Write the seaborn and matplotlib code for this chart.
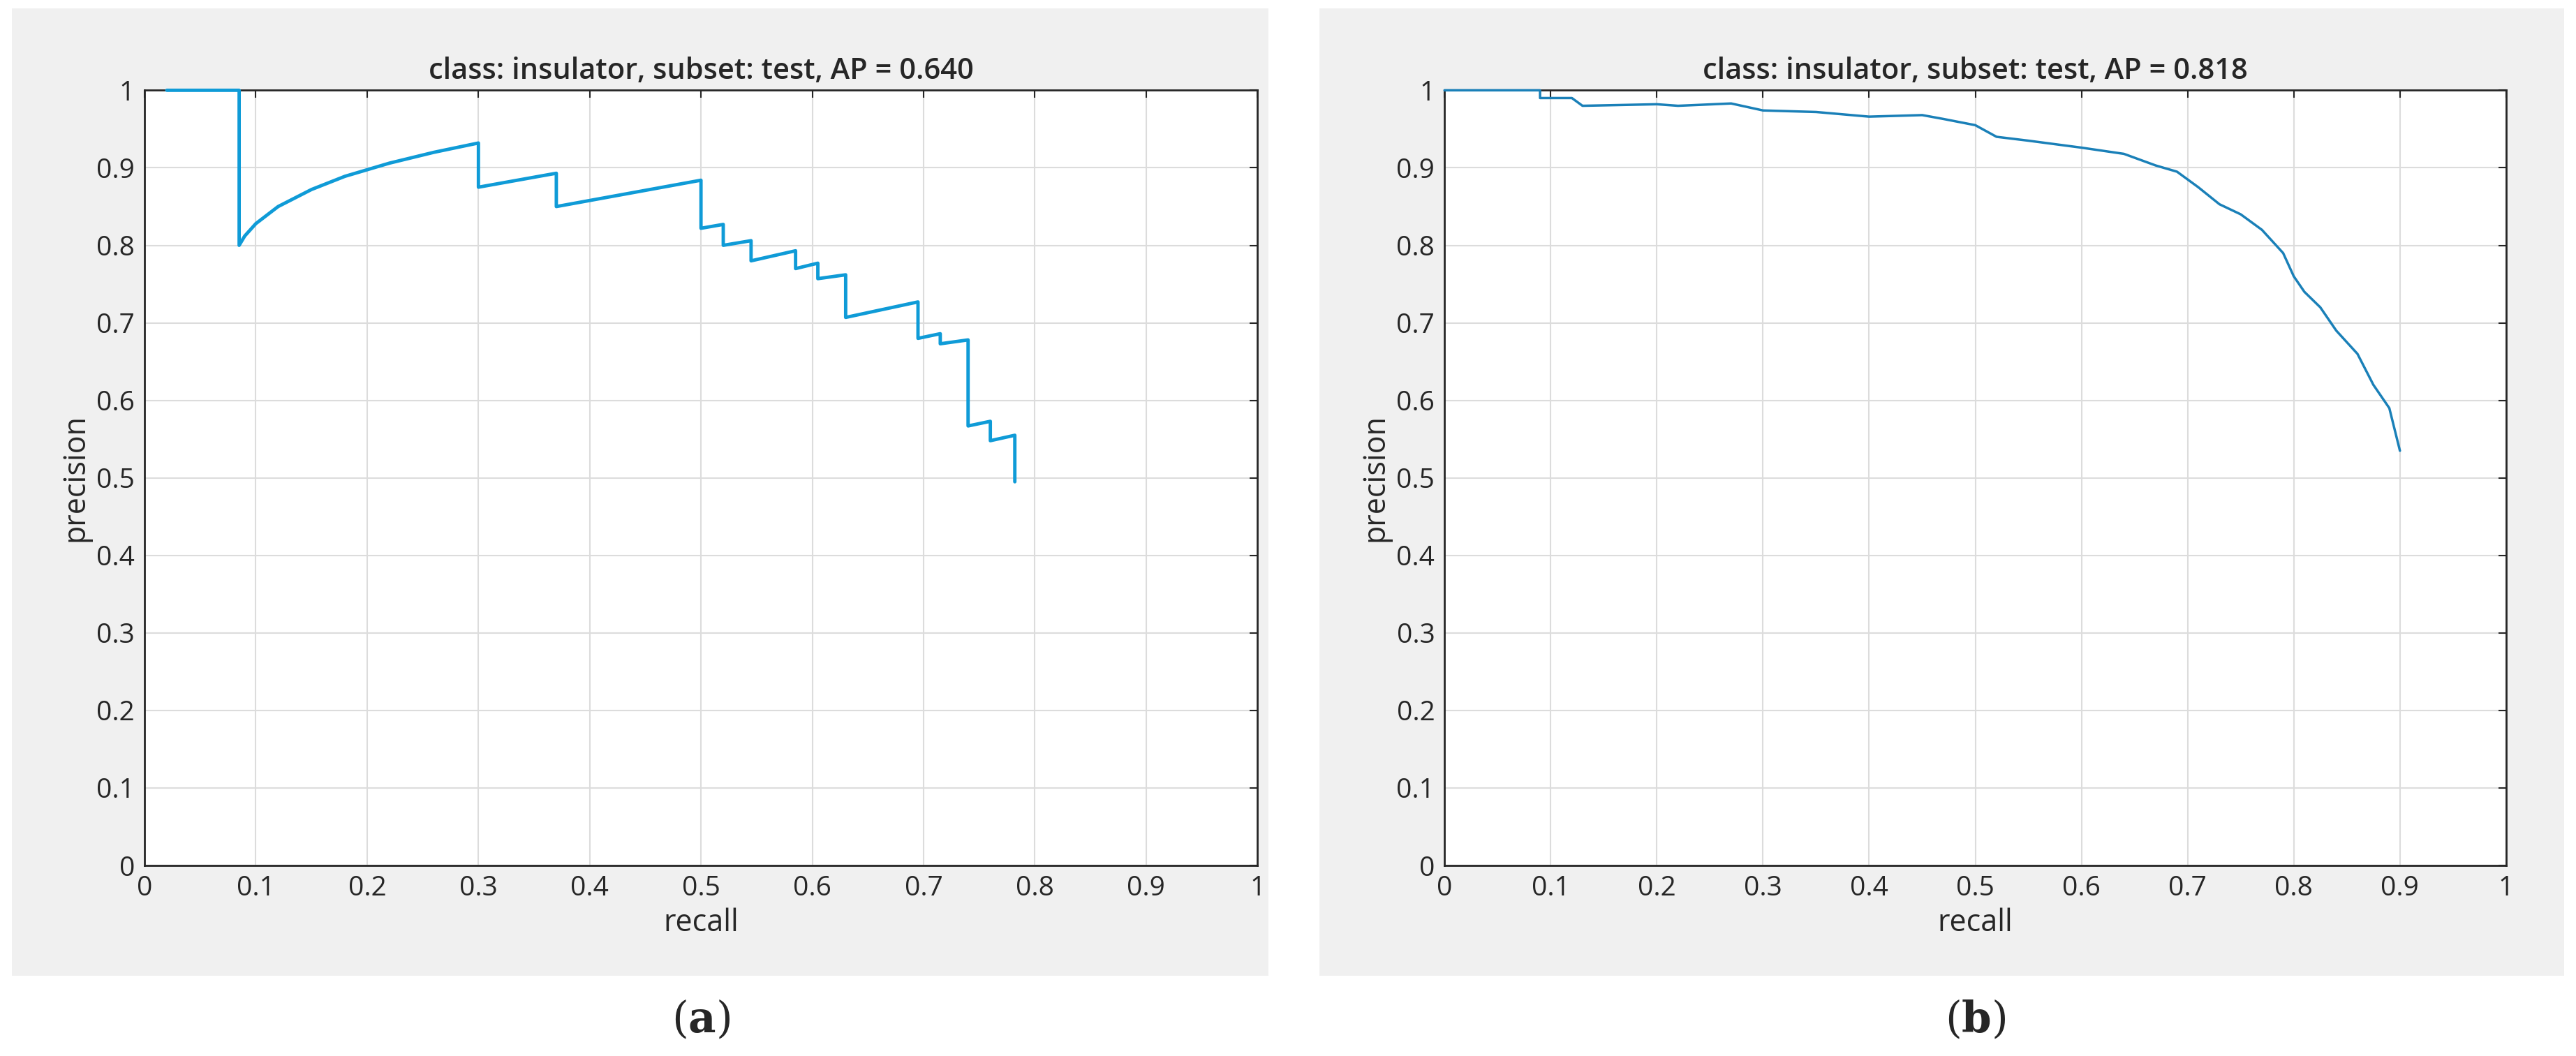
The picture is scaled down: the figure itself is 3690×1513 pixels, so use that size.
import numpy as np
import pandas as pd
import seaborn as sns
import matplotlib.pyplot as plt
from matplotlib.patches import Rectangle

# panel (a): step-like PR curve
recall_a = [0.02, 0.085, 0.085, 0.09, 0.1, 0.12, 0.15, 0.18, 0.22, 0.26, 0.3, 0.3, 0.37, 0.37, 0.5, 0.5,
            0.52, 0.52, 0.545, 0.545, 0.585, 0.585, 0.605, 0.605, 0.63, 0.63, 0.695, 0.695,
            0.715, 0.715, 0.74, 0.74, 0.76, 0.76, 0.782, 0.782]
precision_a = [1.0, 1.0, 0.80, 0.812, 0.828, 0.85, 0.872, 0.889, 0.906, 0.92, 0.932, 0.875, 0.893, 0.85,
               0.884, 0.822, 0.827, 0.80, 0.806, 0.78, 0.793, 0.77, 0.777, 0.757, 0.762, 0.707, 0.727, 0.68,
               0.686, 0.673, 0.678, 0.567, 0.573, 0.548, 0.555, 0.495]

# panel (b): smoother PR curve
recall_b = [0.0, 0.09, 0.09, 0.12, 0.13, 0.2, 0.22, 0.27, 0.3, 0.35, 0.4, 0.45, 0.47, 0.5,
            0.52, 0.55, 0.6, 0.64, 0.67, 0.69, 0.71, 0.73, 0.75, 0.77, 0.79, 0.80, 0.81,
            0.825, 0.84, 0.86, 0.875, 0.89, 0.9]
precision_b = [1.0, 1.0, 0.99, 0.99, 0.98, 0.982, 0.98, 0.983, 0.974, 0.972, 0.966, 0.968, 0.963, 0.955,
               0.94, 0.935, 0.926, 0.918, 0.903, 0.895, 0.875, 0.853, 0.84, 0.82, 0.79, 0.76, 0.74,
               0.72, 0.69, 0.66, 0.62, 0.59, 0.535]

titles = ["class: insulator, subset: test, AP = 0.640", "class: insulator, subset: test, AP = 0.818"]
ticks = np.round(np.arange(0, 1.01, 0.1), 1)
tick_labels = ["0"] + [f"{t:g}" for t in ticks[1:-1]] + ["1"]

sns.set_style("white")
plt.rcParams['font.family'] = ['Open Sans', 'DejaVu Sans']
plt.rcParams['mathtext.fontset'] = 'dejavuserif'

fig = plt.figure(figsize=(36.91, 15.13), dpi=100)
# gray MATLAB-like panels behind the axes
for x0, w in [(0.0045, 0.4878), (0.512, 0.483)]:
    fig.add_artist(Rectangle((x0, 0.076), w, 0.916, transform=fig.transFigure,
                             facecolor="#f0f0f0", edgecolor="none", zorder=-5))

axes = [fig.add_axes([0.0561, 0.1804, 0.4319, 0.7341]),
        fig.add_axes([0.5606, 0.1804, 0.412, 0.7341])]
data = [(recall_a, precision_a, "#0f9bd7"), (recall_b, precision_b, "#1a80b8")]

for ax, (r, p, c), title, lab in zip(axes, data, titles, ["a", "b"]):
    ax.set_zorder(2)
    ax.set_facecolor("white")
    df = pd.DataFrame({"recall": r, "precision": p})
    sns.lineplot(data=df, x="recall", y="precision", ax=ax, color=c, lw=3.5 if lab == "a" else 2.5,
                 sort=False, estimator=None, clip_on=False, zorder=5)
    ax.set_xlim(0, 1)
    ax.set_ylim(0, 1)
    ax.set_xticks(ticks)
    ax.set_yticks(ticks)
    ax.set_xticklabels(tick_labels)
    ax.set_yticklabels(tick_labels)
    ax.grid(True, color="#dcdcdc", lw=1.5)
    ax.tick_params(direction="in", length=8, width=1.5, labelsize=28, top=True, right=True, pad=10)
    for s in ax.spines.values():
        s.set_color("#262626")
        s.set_linewidth(2)
    ax.set_title(title, fontsize=30, pad=12, weight="semibold")
    ax.set_xlabel("recall", fontsize=31, labelpad=6)
    ax.set_ylabel("precision", fontsize=31, labelpad=6)
    pos = ax.get_position()
    fig.text((pos.x0 + pos.x1) / 2, 0.022, "($\\mathbf{%s}$)" % lab, fontsize=44,
             family="DejaVu Serif", ha="center")

fig.savefig("out.png", dpi=100, facecolor="white")
